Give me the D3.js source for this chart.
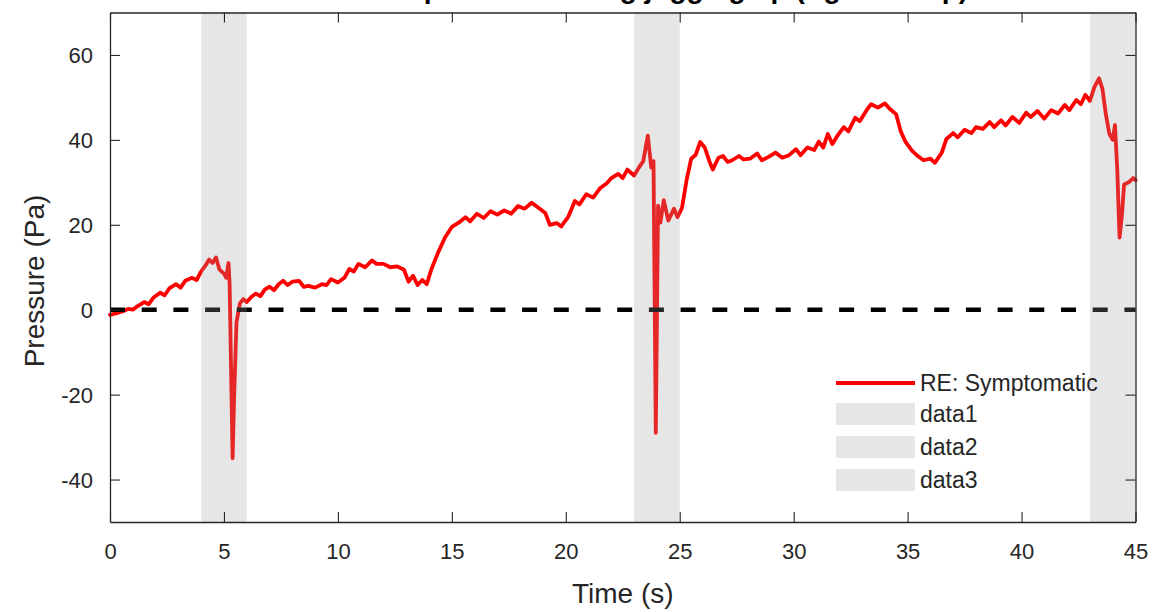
<!DOCTYPE html>
<html>
<head>
<meta charset="utf-8">
<script src="https://cdn.jsdelivr.net/npm/d3@7"></script>
<style>
  html, body { margin: 0; padding: 0; background: #fff; }
  svg { display: block; }
  text { font-family: "Liberation Sans", Arial, Helvetica, sans-serif; }
</style>
</head>
<body>
<svg id="chart" width="1156" height="612"></svg>
<script>
// ---------------- data ----------------
const titleText = "Middle ear pressure during jogging up (right ear up)";
const xLabel = "Time (s)";
const yLabel = "Pressure (Pa)";
const xTicks = [0, 5, 10, 15, 20, 25, 30, 35, 40, 45];
const yTicks = [-40, -20, 0, 20, 40, 60];
const xDomain = [0, 45];
const yDomain = [-50, 70];
const seriesName = "RE: Symptomatic";
const patchNames = ["data1", "data2", "data3"];
const patchStarts = [4, 23, 43];
const patchEnds = [6, 25, 45];
const refValue = 0;

const time = [
  0, 0.3, 0.6, 0.8, 1.0, 1.2, 1.5, 1.7, 1.9, 2.2, 2.4, 2.6, 2.9, 3.1, 3.3, 3.6, 3.8,
  4.0, 4.2, 4.35, 4.5, 4.65, 4.8, 5.0, 5.1, 5.2, 5.25, 5.3, 5.38, 5.45, 5.55, 5.7, 5.85,
  6.0, 6.2, 6.4, 6.6, 6.8, 7.0, 7.2, 7.4, 7.6, 7.8, 8.0, 8.3, 8.5, 8.7, 9.0, 9.3, 9.5,
  9.7, 10.0, 10.3, 10.5, 10.7, 10.9, 11.2, 11.5, 11.7, 12.0, 12.3, 12.6, 12.9, 13.1,
  13.3, 13.5, 13.7, 13.9, 14.1, 14.4, 14.7, 15.0, 15.3, 15.6, 15.8, 16.1, 16.4, 16.7,
  17.0, 17.3, 17.6, 17.9, 18.2, 18.5, 18.8, 19.1, 19.3, 19.6, 19.8, 20.1, 20.4, 20.6,
  20.9, 21.2, 21.5, 21.8, 22.0, 22.3, 22.5, 22.7, 23.0, 23.2, 23.4, 23.6, 23.75, 23.85,
  23.95, 24.05, 24.15, 24.3, 24.5, 24.75, 24.9, 25.1, 25.3, 25.5, 25.7, 25.9, 26.1,
  26.3, 26.45, 26.7, 26.9, 27.1, 27.3, 27.6, 27.8, 28.1, 28.4, 28.6, 28.9, 29.2, 29.5,
  29.8, 30.1, 30.3, 30.6, 30.9, 31.1, 31.3, 31.5, 31.7, 31.9, 32.2, 32.4, 32.7, 32.9,
  33.2, 33.4, 33.7, 34.0, 34.2, 34.5, 34.7, 34.9, 35.2, 35.4, 35.7, 36.0, 36.2, 36.5,
  36.7, 37.0, 37.2, 37.5, 37.8, 38.0, 38.3, 38.6, 38.8, 39.1, 39.3, 39.6, 39.9, 40.2,
  40.4, 40.7, 41.0, 41.3, 41.6, 41.9, 42.1, 42.4, 42.6, 42.8, 43.0, 43.2, 43.4, 43.55,
  43.7, 43.85, 44.0, 44.1, 44.2, 44.3, 44.4, 44.5, 44.7, 44.9, 45.0
];
const pressure = [
  -1.2, -0.8, -0.3, 0.2, 0.0, 0.8, 1.8, 1.3, 2.8, 4.0, 3.4, 5.0, 6.0, 5.2, 6.8, 7.5, 7.0,
  9.0, 10.5, 11.8, 11.0, 12.3, 9.5, 8.5, 7.5, 11.0, 6.0, -10, -35, -20, -3, 1.5, 2.5,
  1.8, 3.0, 3.8, 3.2, 4.8, 5.4, 4.6, 6.0, 6.8, 5.8, 6.6, 6.8, 5.4, 5.6, 5.2, 6.0, 5.8,
  7.2, 6.4, 7.6, 9.6, 9.0, 10.8, 10.0, 11.6, 10.8, 10.8, 10.0, 10.2, 9.4, 6.6,
  8.0, 5.8, 7.0, 6.0, 9.5, 13.5, 17.0, 19.5, 20.5, 21.8, 20.8, 22.6, 21.6, 23.2,
  22.4, 23.4, 22.6, 24.4, 23.8, 25.2, 24.0, 22.8, 20.0, 20.4, 19.6, 21.8, 25.6, 24.8,
  27.2, 26.4, 28.6, 29.8, 31.0, 32.0, 31.0, 33.0, 31.6, 33.4, 35.0, 41.0, 33.5, 35.0,
  -29, 24.5, 20.5, 25.8, 21.0, 23.8, 21.8, 24.0, 30.5, 35.5, 36.5, 39.5, 38.2,
  35.0, 33.0, 35.8, 36.2, 34.8, 35.2, 36.2, 35.4, 35.6, 36.8, 35.2, 36.0, 37.0, 35.8,
  36.4, 37.8, 36.4, 38.2, 37.6, 39.6, 38.2, 41.4, 39.0, 40.8, 43.0, 42.0, 45.2, 44.4,
  47.0, 48.4, 47.6, 48.6, 47.4, 46.0, 42.0, 39.6, 37.4, 36.4, 35.2, 35.6, 34.6, 37.0,
  40.2, 41.6, 40.6, 42.4, 41.6, 43.0, 42.6, 44.2, 43.0, 44.6, 43.4, 45.4, 44.0, 46.4,
  45.4, 46.8, 45.0, 47.0, 46.2, 48.2, 47.0, 49.4, 48.4, 50.6, 49.2, 52.5, 54.5, 52.0,
  46.0, 41.5, 40.0, 43.5, 33.0, 17.0, 22.0, 29.5, 30.0, 31.0, 30.5
];

// ---------------- layout ----------------
const svg = d3.select("#chart");
const plot = { left: 110, right: 1135.5, top: 12.5, bottom: 522 };
const axisColor = "#262626";

const x = d3.scaleLinear().domain(xDomain).range([plot.left, plot.right]);
const y = d3.scaleLinear().domain(yDomain).range([plot.bottom, plot.top]);

const data = time.map((t, i) => ({ t: t, v: pressure[i] }));
const patches = patchStarts.map((s, i) => ({ s: s, e: patchEnds[i], name: patchNames[i] }));
const fmt = d => String(d); // plain hyphen-minus like the reference

// title (partly cut off at top, as in the reference)
svg.append("text")
  .attr("x", (plot.left + plot.right) / 2)
  .attr("y", -2)
  .attr("text-anchor", "middle")
  .attr("font-weight", "bold")
  .attr("font-size", 28)
  .attr("fill", "#000")
  .text(titleText);

// red data line
const line = d3.line().x(d => x(d.t)).y(d => y(d.v)).curve(d3.curveLinear);
svg.append("path")
  .datum(data)
  .attr("d", line)
  .attr("fill", "none")
  .attr("stroke", "#ff0000")
  .attr("stroke-width", 3.8)
  .attr("stroke-linejoin", "round")
  .attr("stroke-linecap", "round");

// reference dashed line at 0
svg.append("line")
  .attr("x1", x(xDomain[0]))
  .attr("x2", x(xDomain[1]))
  .attr("y1", y(refValue))
  .attr("y2", y(refValue))
  .attr("stroke", "#000")
  .attr("stroke-width", 4.5)
  .attr("stroke-dasharray", "15,16.7");

// translucent patches on top
svg.selectAll("rect.patch")
  .data(patches)
  .enter().append("rect")
  .attr("class", "patch")
  .attr("x", d => x(d.s))
  .attr("width", d => x(d.e) - x(d.s))
  .attr("y", y(yDomain[1]))
  .attr("height", y(yDomain[0]) - y(yDomain[1]))
  .attr("fill", "#9b9b9b")
  .attr("fill-opacity", 0.25);

// axes
const gx = svg.append("g").attr("transform", `translate(0,${plot.bottom})`)
  .call(d3.axisBottom(x).tickValues(xTicks).tickSizeInner(-10).tickSizeOuter(0).tickPadding(21).tickFormat(fmt));
const gxt = svg.append("g").attr("transform", `translate(0,${plot.top})`)
  .call(d3.axisTop(x).tickValues(xTicks).tickSizeInner(-10).tickSizeOuter(0).tickFormat(""));
const gy = svg.append("g").attr("transform", `translate(${plot.left},0)`)
  .call(d3.axisLeft(y).tickValues(yTicks).tickSizeInner(-10).tickSizeOuter(0).tickPadding(17).tickFormat(fmt));
const gyr = svg.append("g").attr("transform", `translate(${plot.right},0)`)
  .call(d3.axisRight(y).tickValues(yTicks).tickSizeInner(-10).tickSizeOuter(0).tickFormat(""));

[gx, gxt, gy, gyr].forEach(g => {
  g.select(".domain").attr("stroke", axisColor).attr("stroke-width", 1.3);
  g.selectAll(".tick line").attr("stroke", axisColor).attr("stroke-width", 1.1);
  g.selectAll(".tick text").attr("fill", axisColor).attr("font-size", 22)
    .attr("font-family", "'Liberation Sans', Arial, sans-serif");
});
gx.selectAll(".tick text").attr("dy", "0.71em");
gy.selectAll(".tick text").attr("dy", "0.35em");

// axis labels
svg.append("text")
  .attr("x", (plot.left + plot.right) / 2)
  .attr("y", 603)
  .attr("text-anchor", "middle")
  .attr("font-size", 28)
  .attr("fill", axisColor)
  .text(xLabel);
svg.append("text")
  .attr("transform", `translate(44,281) rotate(-90)`)
  .attr("text-anchor", "middle")
  .attr("font-size", 28)
  .attr("fill", axisColor)
  .text(yLabel);

// legend (no box)
const leg = svg.append("g").attr("transform", "translate(836,383)");
leg.append("line")
  .attr("x1", 0).attr("x2", 79).attr("y1", 0).attr("y2", 0)
  .attr("stroke", "#ff0000").attr("stroke-width", 4);
leg.append("text")
  .attr("x", 84).attr("y", 8)
  .attr("font-size", 23).attr("fill", axisColor)
  .text(seriesName);
const legItems = leg.selectAll("g.item").data(patches).enter().append("g")
  .attr("class", "item")
  .attr("transform", (d, i) => `translate(0,${20 + i * 33})`);
legItems.append("rect")
  .attr("x", 0).attr("y", 0).attr("width", 79).attr("height", 22)
  .attr("fill", "#e6e6e6");
legItems.append("text")
  .attr("x", 84).attr("y", 19)
  .attr("font-size", 23).attr("fill", axisColor)
  .text(d => d.name);
</script>
</body>
</html>
